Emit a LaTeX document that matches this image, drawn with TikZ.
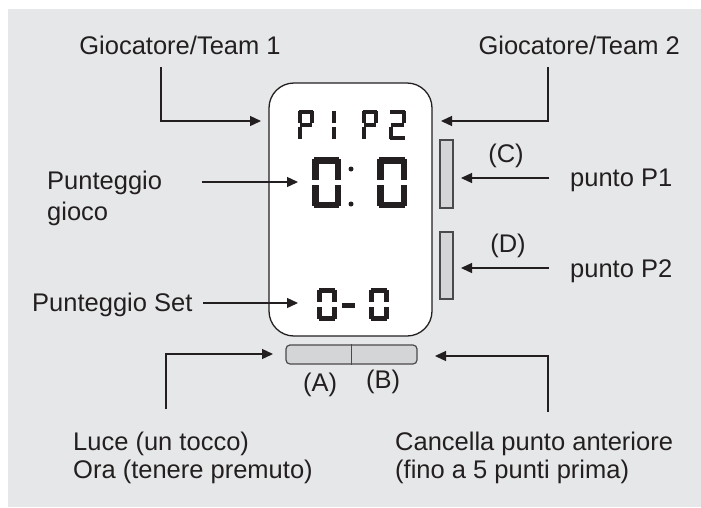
\documentclass[tikz,border=0pt]{standalone}
\usepackage{fontspec}
\setmainfont{Liberation Sans}
\usetikzlibrary{arrows.meta}
\definecolor{bg}{HTML}{E6E7E8}
\definecolor{ink}{HTML}{231F20}
\definecolor{btnfill}{HTML}{D4D5D7}
\definecolor{btnline}{HTML}{4A4A4C}
% one LCD segment: #1 number (1 top,2 upper right,3 lower right,4 bottom,5 lower left,6 upper left,7 middle), #2 x, #3 y, #4 width, #5 height, #6 thickness
\newcommand\lcdpart[6]{%
 \pgfmathsetmacro\lg{0.35*#6}%
 \pgfmathsetmacro\lm{0.45*#6}%
 \pgfmathsetmacro\lh{0.5*#6}%
 \ifcase#1\or
 \draw[seg,line width=#6pt] ({#2+\lg},{#3+\lh}) -- ({#2+#4-\lg},{#3+\lh});\or
 \draw[seg,line width=#6pt] ({#2+#4-\lh},{#3+\lg}) -- ({#2+#4-\lh},{#3+#5/2-\lm});\or
 \draw[seg,line width=#6pt] ({#2+#4-\lh},{#3+#5/2+\lm}) -- ({#2+#4-\lh},{#3+#5-\lg});\or
 \draw[seg,line width=#6pt] ({#2+\lg},{#3+#5-\lh}) -- ({#2+#4-\lg},{#3+#5-\lh});\or
 \draw[seg,line width=#6pt] ({#2+\lh},{#3+#5/2+\lm}) -- ({#2+\lh},{#3+#5-\lg});\or
 \draw[seg,line width=#6pt] ({#2+\lh},{#3+\lg}) -- ({#2+\lh},{#3+#5/2-\lm});\or
 \draw[seg,line width=#6pt] ({#2+\lm},{#3+#5/2}) -- ({#2+#4-\lm},{#3+#5/2});%
 \fi}
\newcommand\lcddigit[6]{\foreach \s in {#6}{\lcdpart{\s}{#1}{#2}{#3}{#4}{#5}}}
\begin{document}
\begin{tikzpicture}[x=1pt,y=-1pt,
  seg/.style={draw=ink,line cap=butt},
  lbl/.style={font=\fontsize{25.5}{30}\selectfont,text=ink,inner sep=0pt},
  device/.style={draw=ink,fill=white,line width=1.3pt,rounded corners=25pt,inner sep=0pt},
  sbtn/.style={draw=btnline,fill=btnfill,line width=1.2pt,inner sep=0pt},
  arr/.style={draw=ink,line width=1.3pt,-{Triangle[length=11pt,width=10pt]}}]
\useasboundingbox (0,0) rectangle (701,507);
\fill[bg] (8,9) rectangle (701,507);

% device
\node[device,minimum width=163pt,minimum height=253pt] (dev) at (350.5,209.5) {};
\node[sbtn,minimum width=13pt,minimum height=68pt] (C) at (446.5,174) {};
\node[sbtn,minimum width=13pt,minimum height=67pt] (D) at (446.5,265.5) {};
\node[sbtn,rounded corners=4pt,minimum width=131pt,minimum height=19pt] (AB) at (351.5,354.5) {};
\draw[btnline,line width=1.2pt] (AB.north) -- (AB.south);

% LCD readout: P1 P2
\lcddigit{298}{110}{16}{30}{4}{1,2,6,5,7}
\lcddigit{320}{110}{16}{30}{4}{2,3}
\lcddigit{362}{110}{16}{30}{4}{1,2,6,5,7}
\lcddigit{389}{110}{17}{30}{4}{1,2,7,5,4}
% 0:0
\lcddigit{312}{157}{29}{51}{6.5}{1,2,3,4,5,6}
\fill[ink] (351,169) circle[radius=2.5pt];
\fill[ink] (351,204) circle[radius=2.5pt];
\lcddigit{377}{157}{30}{51}{6.5}{1,2,3,4,5,6}
% 0-0
\lcddigit{317}{288}{20}{33}{5}{1,2,3,4,5,6}
\draw[seg,line width=5pt] (342,305) -- (355,305);
\lcddigit{369}{288}{20}{33}{5}{1,2,3,4,5,6}

% labels
\node[lbl,anchor=base] (t1) at (180,54) {Giocatore/Team 1};
\node[lbl,anchor=base east] (t2) at (680,54) {Giocatore/Team 2};
\node[lbl,anchor=base west] (pg1) at (47,189) {Punteggio};
\node[lbl,anchor=base west] (pg2) at (47,220) {gioco};
\node[lbl,anchor=base west] (ps) at (32,311) {Punteggio Set};
\node[lbl,anchor=base west] (p1) at (570,186) {punto P1};
\node[lbl,anchor=base west] (p2) at (570,277) {punto P2};
\node[lbl,anchor=base] (lc) at (506,162) {(C)};
\node[lbl,anchor=base] (ld) at (508,252) {(D)};
\node[lbl,anchor=base] (la) at (320,391) {(A)};
\node[lbl,anchor=base] (lb) at (383,388) {(B)};
\node[lbl,anchor=base west] (l1) at (73,450) {Luce (un tocco)};
\node[lbl,anchor=base west] (l2) at (73,478) {Ora (tenere premuto)};
\node[lbl,anchor=base west] (c1) at (395,450) {Cancella punto anteriore};
\node[lbl,anchor=base west] (c2) at (395,478) {(fino a 5 punti prima)};

% connector ends
\coordinate (a1s) at (161,67);  \coordinate (a1e) at (261,121);
\coordinate (a2s) at (548,67);  \coordinate (a2e) at (441,121);
\coordinate (gs) at (202,182);  \coordinate (ge) at (298,182);
\coordinate (ss) at (203,303);  \coordinate (se) at (298,303);
\coordinate (cs) at (549,178);  \coordinate (ce) at (461,178);
\coordinate (ds) at (549,268);  \coordinate (de) at (461,268);
\coordinate (a3s) at (166,409); \coordinate (a3e) at (273,354);
\coordinate (a4s) at (548,412); \coordinate (a4e) at (435,356);

\draw[arr] (a1s) |- (a1e);
\draw[arr] (a2s) |- (a2e);
\draw[arr] (gs) -- (ge);
\draw[arr] (ss) -- (se);
\draw[arr] (cs) -- (ce);
\draw[arr] (ds) -- (de);
\draw[arr] (a3s) |- (a3e);
\draw[arr] (a4s) |- (a4e);
\end{tikzpicture}
\end{document}
